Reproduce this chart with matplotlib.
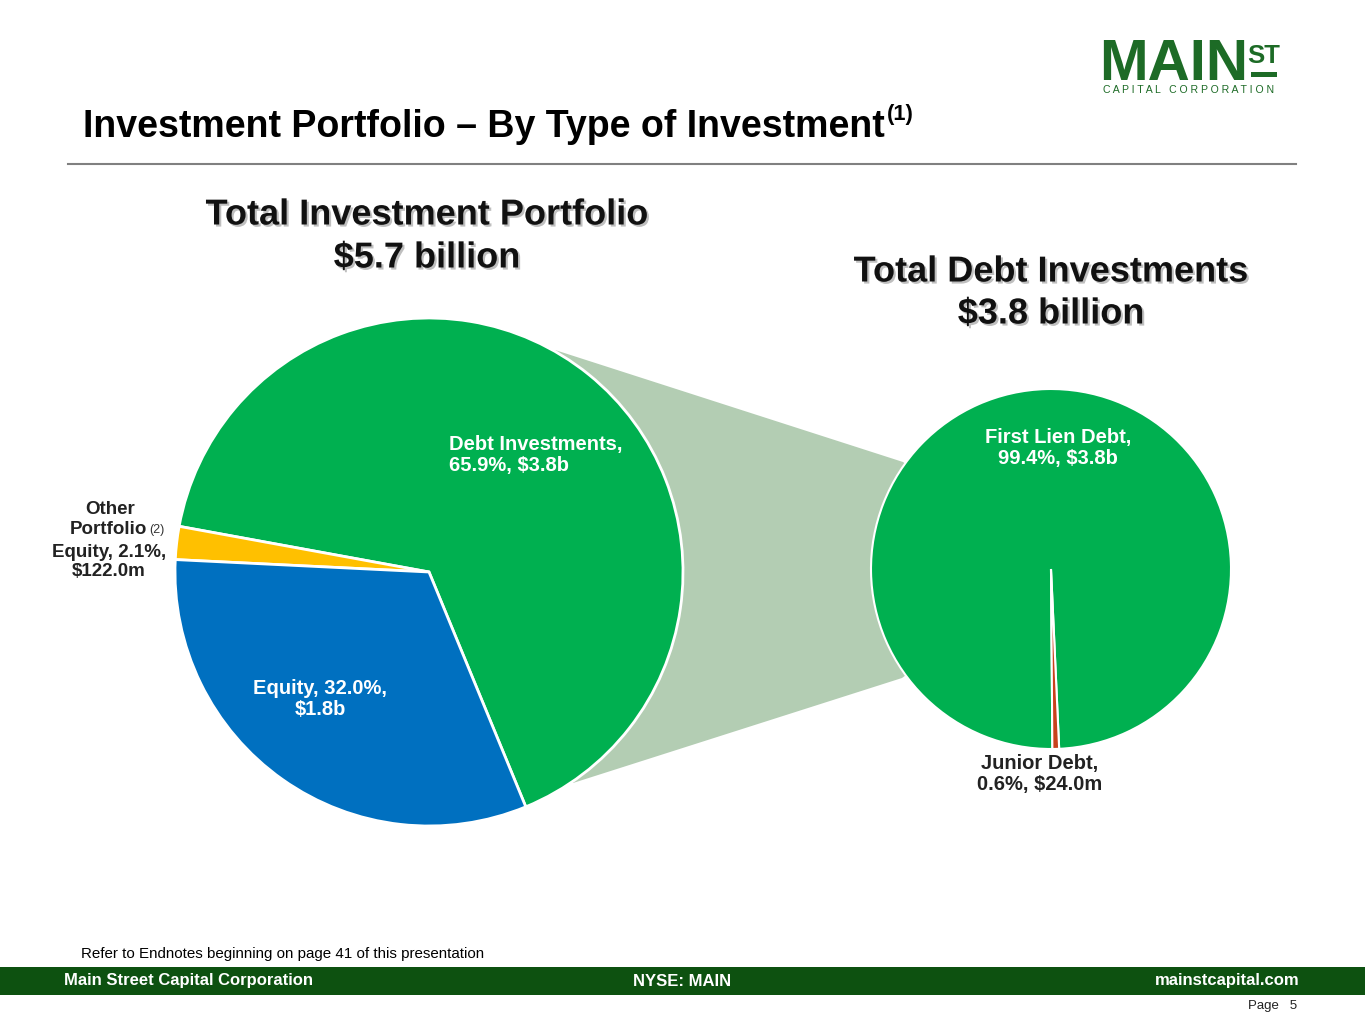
import numpy as np
import matplotlib
matplotlib.use("Agg")
import matplotlib.pyplot as plt
import matplotlib.patheffects as pe
from matplotlib import font_manager
from matplotlib.patches import Rectangle, Polygon

# data
total_labels = ["Debt Investments,\n65.9%, $3.8b", "Other Portfolio Equity", "Equity, 32.0%,\n$1.8b"]
total_values = [65.9, 2.1, 32.0]
total_colors = ["#00b050", "#ffc000", "#0070c0"]

debt_labels = ["First Lien Debt,\n99.4%, $3.8b", "Junior Debt,\n0.6%, $24.0m"]
debt_values = [99.4, 0.6]
debt_colors = ["#00b050", "#c8411c"]

W, H = 1365, 1024
def Y(y):
    return H - y

names = {f.name for f in font_manager.fontManager.ttflist}
if "Liberation Sans Narrow" in names:
    NARROW = "Liberation Sans Narrow"
    title_size, foot_size, note_size = 29, 13, 12
else:
    NARROW = "Liberation Sans"
    title_size, foot_size, note_size = 27, 12, 10.9
SANS = "Liberation Sans"

fig = plt.figure(figsize=(13.65, 10.24), dpi=100)
ax = fig.add_axes([0, 0, 1, 1])

# connector between the two pies
ax.add_patch(Polygon([(429, Y(572)), (555, Y(350)), (903, Y(462)), (1051, Y(569)),
                      (902, Y(678)), (573, Y(783))],
                     closed=True, facecolor="#b3cdb3", edgecolor="none", zorder=1))

ax.pie(total_values, colors=total_colors, startangle=-67.6, counterclock=True,
       center=(429, Y(572)), radius=254,
       wedgeprops=dict(edgecolor="white", linewidth=2))
ax.pie(debt_values, colors=debt_colors, startangle=-87.4, counterclock=True,
       center=(1051, Y(569)), radius=180,
       wedgeprops=dict(edgecolor="white", linewidth=1.5))

ax.set_xlim(0, W)
ax.set_ylim(0, H)
ax.set_aspect("equal")
ax.axis("off")

shadow = [pe.withSimplePatchShadow(offset=(1.5, -1.5), shadow_rgbFace="gray", alpha=0.5)]

# pie headings
for x, y, s in [(427, 215, "Total Investment Portfolio"), (427, 258, "$5.7 billion"),
                (1051, 272, "Total Debt Investments"), (1051, 314, "$3.8 billion")]:
    ax.text(x, Y(y), s, ha="center", va="center", fontsize=26, fontweight="bold",
            family=SANS, color="#111111", path_effects=shadow)

# slice labels
ax.text(449, Y(455), total_labels[0], ha="left", va="center", fontsize=14.5,
        fontweight="bold", family=SANS, color="white", linespacing=1.15)
ax.text(320, Y(699), total_labels[2], ha="center", va="center", fontsize=14.5,
        fontweight="bold", family=SANS, color="white", linespacing=1.15)
ax.text(110, Y(509), "Other", ha="center", va="center", fontsize=13.5,
        fontweight="bold", family=SANS, color="#222222")
ax.text(147, Y(530), "Portfolio", ha="right", va="center", fontsize=13.5,
        fontweight="bold", family=SANS, color="#222222")
ax.text(149, Y(530), "(2)", ha="left", va="center", fontsize=9,
        family=SANS, color="#333333")
ax.text(109, Y(562), "Equity, 2.1%,\n$122.0m", ha="center", va="center", fontsize=13.5,
        fontweight="bold", family=SANS, color="#222222", linespacing=1.1)
ax.text(1058, Y(448), debt_labels[0], ha="center", va="center", fontsize=14.5,
        fontweight="bold", family=SANS, color="white", linespacing=1.15)
ax.text(1040, Y(774), debt_labels[1], ha="center", va="center", fontsize=14.5,
        fontweight="bold", family=SANS, color="#222222", linespacing=1.15)

# slide title
t = ax.text(83, Y(137), "Investment Portfolio \u2013 By Type of Investment", ha="left",
            va="baseline", fontsize=title_size, fontweight="bold", family=NARROW, color="black")
fig.canvas.draw()
bb = t.get_window_extent(renderer=fig.canvas.get_renderer())
ax.text(bb.x1 + 2, Y(120), "(1)", ha="left", va="baseline", fontsize=title_size * 0.58,
        fontweight="bold", family=NARROW, color="black")
ax.plot([68, 1296], [Y(164), Y(164)], color="#808080", linewidth=1.5)

# logo
logo_green = "#1d6b26"
ax.text(1099, Y(80), "MAIN", ha="left", va="baseline", fontsize=42, fontweight="bold",
        family=SANS, color=logo_green)
ax.text(1264, Y(63), "ST", ha="center", va="baseline", fontsize=18.5, fontweight="bold",
        family=SANS, color=logo_green)
ax.add_patch(Rectangle((1251, Y(77)), 26, 5, facecolor=logo_green, edgecolor="none"))
ax.text(1189, Y(90), "C A P I T A L   C O R P O R A T I O N", ha="center", va="center",
        fontsize=7.6, family=SANS, color=logo_green)

# footer
ax.text(81, Y(954), "Refer to Endnotes beginning on page 41 of this presentation",
        ha="left", va="center", fontsize=note_size, family=NARROW, color="black")
ax.add_patch(Rectangle((0, Y(995)), W, 28, facecolor="#0d5110", edgecolor="none"))
ax.text(64, Y(981), "Main Street Capital Corporation", ha="left", va="center",
        fontsize=foot_size, fontweight="bold", family=NARROW, color="white")
ax.text(682, Y(981), "NYSE: MAIN", ha="center", va="center",
        fontsize=foot_size, fontweight="bold", family=NARROW, color="white")
ax.text(1300, Y(981), "mainstcapital.com", ha="right", va="center",
        fontsize=foot_size, fontweight="bold", family=NARROW, color="white")
ax.text(1297, Y(1006), "Page   5", ha="right", va="center", fontsize=9.5,
        family=NARROW, color="#222222")

fig.savefig("out.png", dpi=100)
